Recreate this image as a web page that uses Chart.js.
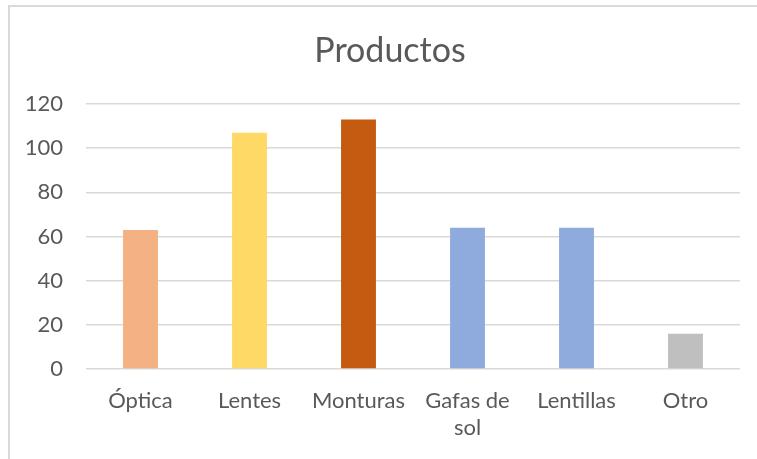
<!DOCTYPE html>
<html>
<head>
<meta charset="utf-8">
<script src="https://cdn.jsdelivr.net/npm/chart.js@4/dist/chart.umd.min.js"></script>
<style>
	html, body { margin: 0; padding: 0; background: #fff; }
	#wrap { position: relative; width: 757px; height: 459px; overflow: hidden; }
	#marco {
		position: absolute; left: 8px; top: 5px; width: 800px; height: 500px;
		border-left: 2px solid #d9d9d9; border-top: 2px solid #d9d9d9;
		pointer-events: none;
	}
	canvas { position: absolute; left: 0; top: 0; }
</style>
</head>
<body>
<div id="wrap">
	<canvas id="grafico" width="757" height="459"></canvas>
	<div id="marco"></div>
</div>
<script>
// Datos
const categorias = ["Óptica", "Lentes", "Monturas", ["Gafas de", "sol"], "Lentillas", "Otro"];
const cantidades = [63, 107, 113, 64, 64, 16];
const coloresBarras = ["#F4B183", "#FFD966", "#C55A11", "#8FAADC", "#8FAADC", "#BFBFBF"];
const marcasEje = [0, 20, 40, 60, 80, 100, 120];
const titulo = "Productos";

const colorTexto = "#595959";
const colorRejilla = "#d9d9d9";
const fuente = "Lato, 'Open Sans', sans-serif";

// Título centrado sobre el marco completo (no sobre el área del gráfico)
const tituloMarco = {
	id: "tituloMarco",
	afterDraw(chart) {
		const c = chart.ctx;
		c.save();
		c.fillStyle = colorTexto;
		c.font = "34px " + fuente;
		c.textAlign = "center";
		c.textBaseline = "middle";
		c.fillText(titulo, 390, 51);
		c.restore();
	}
};

const ctx = document.getElementById("grafico").getContext("2d");

new Chart(ctx, {
	type: "bar",
	data: {
		labels: categorias,
		datasets: [
			{
				data: cantidades,
				backgroundColor: coloresBarras,
				borderWidth: 0,
				categoryPercentage: 1,
				barPercentage: 0.32
			}
		]
	},
	plugins: [tituloMarco],
	options: {
		responsive: false,
		animation: false,
		layout: { padding: { left: 0, right: 17, top: 104, bottom: 19 } },
		plugins: {
			legend: { display: false },
			tooltip: { enabled: false },
			title: { display: false }
		},
		scales: {
			x: {
				afterFit: (s) => {
					s.height = 71;
				},
				grid: { display: false, drawTicks: false },
				border: { display: false },
				ticks: {
					color: colorTexto,
					font: { family: fuente, size: 22 },
					padding: 19,
					maxRotation: 0,
					autoSkip: false
				}
			},
			y: {
				min: 0,
				max: 120,
				afterFit: (s) => {
					s.width = 86;
				},
				afterBuildTicks: (s) => {
					s.ticks = marcasEje.map((v) => ({ value: v }));
				},
				grid: { color: colorRejilla, lineWidth: 1.5, drawTicks: false },
				border: { display: false },
				ticks: {
					color: colorTexto,
					font: { family: fuente, size: 22 },
					padding: 23
				}
			}
		}
	}
});
</script>
</body>
</html>
